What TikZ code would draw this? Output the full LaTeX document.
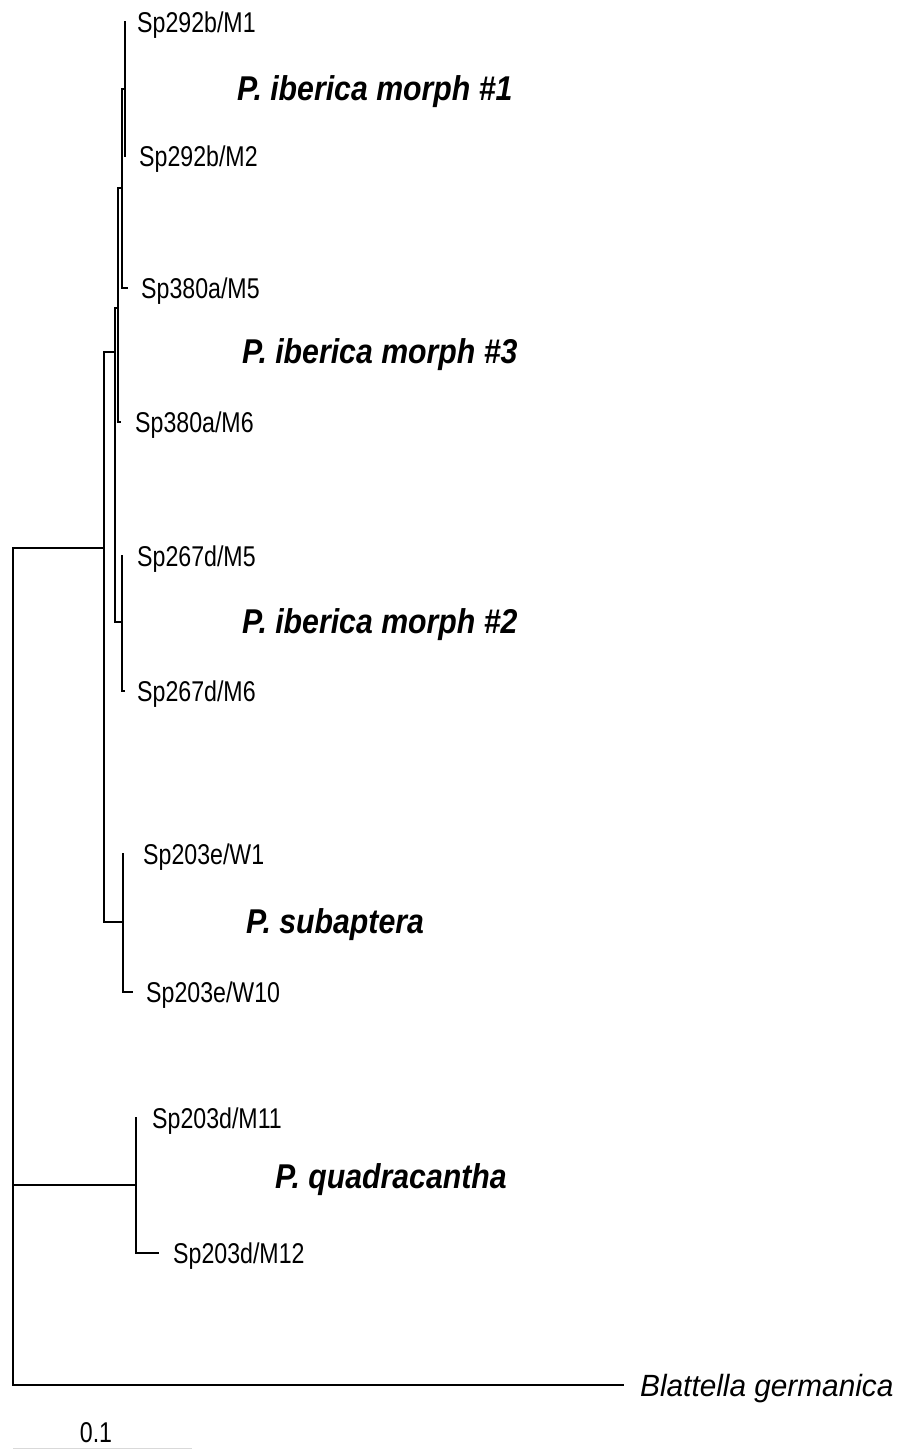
\documentclass[tikz,border=0pt]{standalone}
\usepackage{fontspec}
\setmainfont{Liberation Sans}
\newfontfamily\tipfont[FakeStretch=0.81]{Liberation Sans}
\newfontfamily\cladefont[FakeStretch=0.88]{Liberation Sans}
\newfontfamily\outfont[FakeStretch=0.97]{Liberation Sans}
\begin{document}
\begin{tikzpicture}[x=1pt,y=-1pt,
  br/.style={line width=1.8pt, line cap=rect},
  tiplab/.style={anchor=base west, inner sep=0pt, font=\tipfont\fontsize{28.6}{31}\selectfont},
  cladelab/.style={anchor=west, inner sep=0pt, font=\cladefont\bfseries\itshape\fontsize{34.4}{37}\selectfont},
  outlab/.style={anchor=base west, inner sep=0pt, font=\outfont\itshape\fontsize{30.7}{33}\selectfont}]
\useasboundingbox (0,0) rectangle (899,1449);
% internal nodes (x, y of incoming branch)
\coordinate (R) at (13,548);
\coordinate (I) at (104,548);
\coordinate (A) at (115,352);
\coordinate (C) at (118,308);
\coordinate (E) at (122,188);
\coordinate (F) at (125,89);
\coordinate (D) at (122,622);
\coordinate (S) at (123,922);
\coordinate (Q) at (136,1185);
% tips
\coordinate (t1) at (125,22);
\coordinate (t2) at (125,156);
\coordinate (t3) at (127,288);
\coordinate (t4) at (120,422);
\coordinate (t5) at (122,556);
\coordinate (t6) at (124,691);
\coordinate (t7) at (123,854);
\coordinate (t8) at (132,992);
\coordinate (t9) at (136,1118);
\coordinate (t10) at (158,1253);
\coordinate (t11) at (623,1385);
% branches
\draw[br] (R) |- (I);
\draw[br] (R) |- (Q);
\draw[br] (R) |- (t11);
\draw[br] (I) |- (A);
\draw[br] (I) |- (S);
\draw[br] (A) |- (C);
\draw[br] (A) |- (D);
\draw[br] (C) |- (E);
\draw[br] (C) |- (t4);
\draw[br] (E) |- (F);
\draw[br] (E) |- (t3);
\draw[br] (F) |- (t1);
\draw[br] (F) |- (t2);
\draw[br] (D) |- (t5);
\draw[br] (D) |- (t6);
\draw[br] (S) |- (t7);
\draw[br] (S) |- (t8);
\draw[br] (Q) |- (t9);
\draw[br] (Q) |- (t10);
% tip labels
\node[tiplab] (l1) at (137,32) {Sp292b/M1};
\node[tiplab] (l2) at (139,166) {Sp292b/M2};
\node[tiplab] (l3) at (141,298) {Sp380a/M5};
\node[tiplab] (l4) at (135,432) {Sp380a/M6};
\node[tiplab] (l5) at (137,566) {Sp267d/M5};
\node[tiplab] (l6) at (137,701) {Sp267d/M6};
\node[tiplab] (l7) at (143,864) {Sp203e/W1};
\node[tiplab] (l8) at (146,1002) {Sp203e/W10};
\node[tiplab] (l9) at (152,1128) {Sp203d/M11};
\node[tiplab] (l10) at (173,1263) {Sp203d/M12};
\node[outlab] (l11) at (640,1396) {Blattella germanica};
% clade labels
\node[cladelab] (c1) at (237,92) {P. iberica morph \#1};
\node[cladelab] (c3) at (242,355) {P. iberica morph \#3};
\node[cladelab] (c2) at (242,625) {P. iberica morph \#2};
\node[cladelab] (c4) at (246,925) {P. subaptera};
\node[cladelab] (c5) at (275,1180) {P. quadracantha};
% scale bar
\coordinate (sb1) at (13,1448);
\coordinate (sb2) at (192,1448);
\draw[line width=1pt, black!15] (sb1) -- (sb2);
\node[tiplab, anchor=base] (sbl) at (96,1442) {0.1};
\end{tikzpicture}
\end{document}
